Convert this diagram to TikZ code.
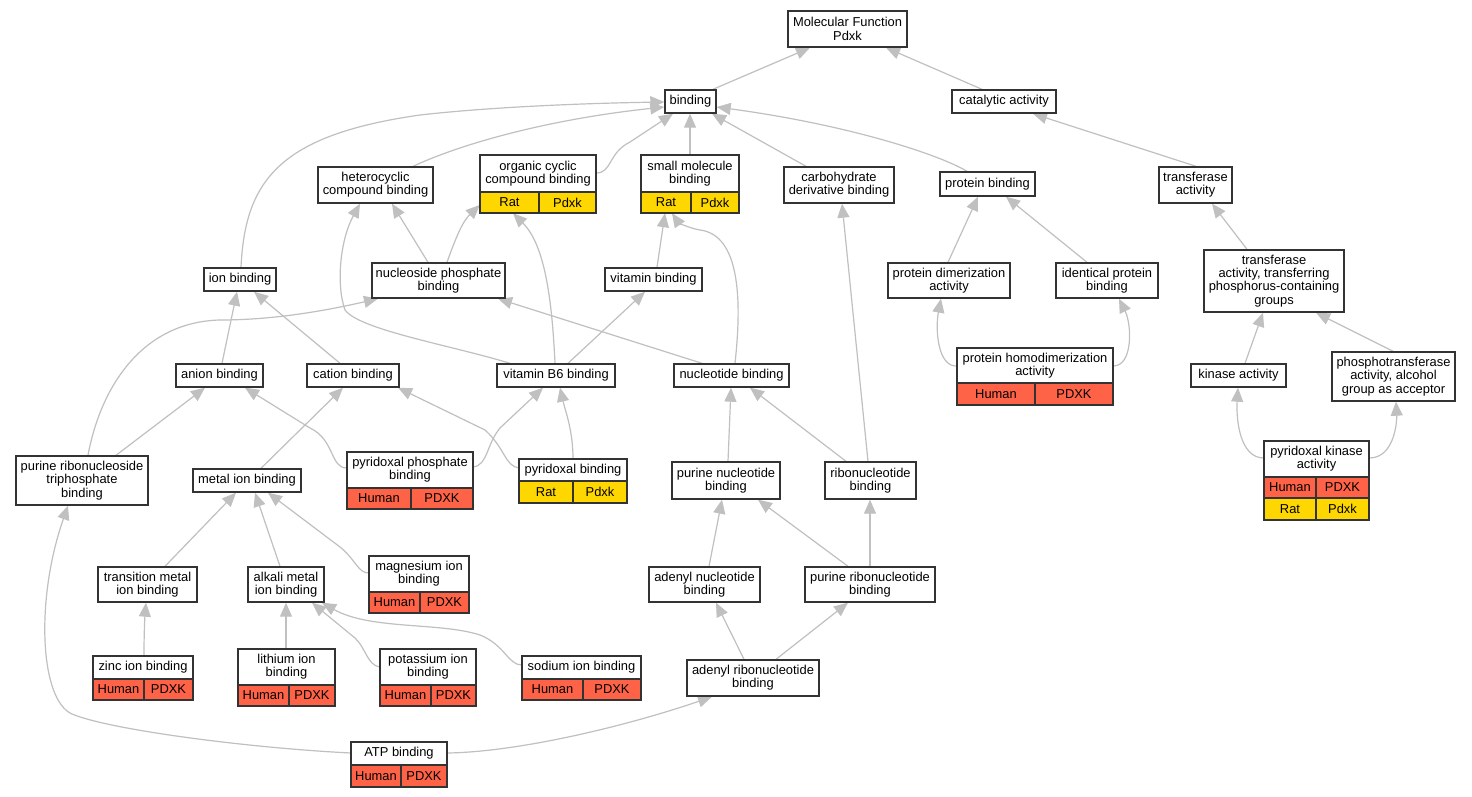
\documentclass[tikz,border=0pt]{standalone}
\usepackage{fontspec}
\setmainfont{Liberation Sans}
\usetikzlibrary{arrows.meta,fit}
\definecolor{edgec}{HTML}{C0C0C0}
\definecolor{boxc}{HTML}{333333}
\definecolor{humc}{HTML}{FF6347}
\definecolor{ratc}{HTML}{FFD700}
\pgfdeclarelayer{back}
\pgfdeclarelayer{bg}
\pgfsetlayers{back,bg,main}
\tikzset{
 boxf/.style={draw=boxc, line width=1.4pt, fill=white, inner sep=0pt},
 txt/.style={align=center, inner sep=0pt, font=\fontsize{12.9}{13.3}\selectfont},
 cellf/.style={draw=boxc, line width=1.4pt, inner sep=0pt},
 outer/.style={inner sep=0pt},
 e/.style={draw=edgec, line width=1.2pt, -{Triangle[length=14pt,width=12pt]}},
}
\newcommand{\bx}[6]{\node[boxf, fit={(#2,#3) (#4,#5)}] (#1) {};
 \node[txt] at (#1.center) {#6};}
\newcommand{\tb}[7]{\node[outer, fit={(#2,#3) (#4,#5)}] (#1) {};
 \node[boxf, fit={(#2,#3) (#4,#6)}] (#1-h) {};
 \node[txt] at (#1-h.center) {#7};}
\newcommand{\cl}[9]{\node[cellf, fill=#7, fit={(#2,#5) (#3,#6)}] (#1-l) {};
 \node[txt] at (#1-l.center) {#8};
 \node[cellf, fill=#7, fit={(#3,#5) (#4,#6)}] (#1-r) {};
 \node[txt] at (#1-r.center) {#9};}
\begin{document}
\begin{tikzpicture}[x=1pt,y=-1pt]
\begin{pgfonlayer}{back}
\fill[white] (0,0) rectangle (1472,797);
\end{pgfonlayer}
\path[use as bounding box] (0,0) rectangle (1472,797);
% nodes
\bx{mf}{788}{11}{907}{47}{Molecular Function\\Pdxk}
\bx{bind}{665}{90}{716}{113}{binding}
\bx{cat}{952}{90}{1056}{113}{catalytic activity}
\bx{het}{318}{167}{433}{203}{heterocyclic\\compound binding}
\tb{occ}{480}{155}{596}{213}{192}{organic cyclic\\compound binding}
\cl{occ}{480}{539}{596}{192}{213}{ratc}{Rat}{Pdxk}
\tb{sm}{641}{155}{739}{213}{192}{small molecule\\binding}
\cl{sm}{641}{691}{739}{192}{213}{ratc}{Rat}{Pdxk}
\bx{carb}{784}{167}{894}{203}{carbohydrate\\derivative binding}
\bx{prot}{940}{172}{1035}{196}{protein binding}
\bx{trans}{1159}{167}{1232}{203}{transferase\\activity}
\bx{ion}{204}{268}{276}{291}{ion binding}
\bx{nps}{372}{263}{505}{298}{nucleoside phosphate\\binding}
\bx{vit}{605}{268}{702}{291}{vitamin binding}
\bx{pdim}{888}{263}{1010}{298}{protein dimerization\\activity}
\bx{ident}{1056}{263}{1158}{298}{identical protein\\binding}
\bx{transp}{1204}{250}{1344}{312}{transferase\\activity, transferring\\phosphorus-containing\\groups}
\bx{anion}{176}{364}{263}{387}{anion binding}
\bx{cation}{307}{364}{399}{387}{cation binding}
\bx{vb6}{497}{364}{615}{387}{vitamin B6 binding}
\bx{nuc}{674}{364}{789}{387}{nucleotide binding}
\tb{homod}{957}{348}{1113}{405}{383}{protein homodimerization\\activity}
\cl{homod}{957}{1035}{1113}{383}{405}{humc}{Human}{PDXK}
\bx{kin}{1191}{364}{1286}{387}{kinase activity}
\bx{phos}{1332}{352}{1455}{401}{phosphotransferase\\activity, alcohol\\group as acceptor}
\bx{prtb}{16}{456}{148}{505}{purine ribonucleoside\\triphosphate\\binding}
\bx{metal}{193}{469}{301}{492}{metal ion binding}
\tb{ppb}{347}{452}{473}{509}{488}{pyridoxal phosphate\\binding}
\cl{ppb}{347}{411}{473}{488}{509}{humc}{Human}{PDXK}
\tb{pb}{519}{459}{627}{503}{481}{pyridoxal binding}
\cl{pb}{519}{573}{627}{481}{503}{ratc}{Rat}{Pdxk}
\bx{pn}{672}{462}{780}{499}{purine nucleotide\\binding}
\bx{ribo}{825}{462}{916}{499}{ribonucleotide\\binding}
\tb{pk}{1264}{441}{1369}{520}{477}{pyridoxal kinase\\activity}
\cl{pkh}{1264}{1316}{1369}{477}{498}{humc}{Human}{PDXK}
\cl{pkr}{1264}{1316}{1369}{498}{520}{ratc}{Rat}{Pdxk}
\bx{trm}{98}{567}{197}{602}{transition metal\\ion binding}
\bx{alk}{248}{567}{324}{602}{alkali metal\\ion binding}
\tb{mg}{369}{556}{469}{613}{592}{magnesium ion\\binding}
\cl{mg}{369}{420}{469}{592}{613}{humc}{Human}{PDXK}
\bx{aden}{649}{567}{760}{602}{adenyl nucleotide\\binding}
\bx{pr}{805}{567}{935}{602}{purine ribonucleotide\\binding}
\tb{zinc}{93}{656}{193}{700}{679}{zinc ion binding}
\cl{zinc}{93}{144}{193}{679}{700}{humc}{Human}{PDXK}
\tb{li}{238}{649}{335}{706}{685}{lithium ion\\binding}
\cl{li}{238}{289}{335}{685}{706}{humc}{Human}{PDXK}
\tb{k}{380}{649}{476}{706}{685}{potassium ion\\binding}
\cl{k}{380}{431}{476}{685}{706}{humc}{Human}{PDXK}
\tb{na}{522}{656}{641}{700}{679}{sodium ion binding}
\cl{na}{522}{583}{641}{679}{700}{humc}{Human}{PDXK}
\bx{adr}{687}{660}{819}{696}{adenyl ribonucleotide\\binding}
\tb{atp}{351}{742}{447}{787}{765}{ATP binding}
\cl{atp}{351}{401}{447}{765}{787}{humc}{Human}{PDXK}
% edges
\begin{pgfonlayer}{bg}
\draw[e] (bind.north -| 713,0) -- (mf.south -| 810,0);
\draw[e] (cat.north -| 982,0) -- (mf.south -| 886,0);
\draw[e] (het.north -| 413,0) .. controls (470,140) and (560,118) .. (bind.west |- 0,107);
\draw[e] (ion.north -| 241,0) .. controls (245,180) and (280,135) .. (420,115) .. controls (500,106) and (600,103) .. (bind.west |- 0,102);
\draw[e] (occ.east |- 0,173) .. controls (612,173) and (608,153) .. (630,142) -- (bind.south -| 673,0);
\draw[e] (sm.north -| 690,0) -- (bind.south -| 690,0);
\draw[e] (carb.north -| 806,0) -- (bind.south -| 712,0);
\draw[e] (prot.north -| 967,0) .. controls (940,155) and (850,125) .. (bind.east |- 0,107);
\draw[e] (trans.north -| 1196,0) -- (cat.south -| 1033,0);
\draw[e] (nps.north -| 428,0) -- (het.south -| 392,0);
\draw[e] (nps.north -| 447,0) .. controls (455,240) and (462,222) .. (occ.west |- 0,205);
\draw[e] (vb6.north -| 510,0) .. controls (450,345) and (360,330) .. (345,310) .. controls (336,285) and (340,240) .. (het.south -| 360,0);
\draw[e] (vb6.north -| 555,0) .. controls (552,300) and (545,245) .. (occ.south -| 513,0);
\draw[e] (vit.north -| 657,0) -- (sm.south -| 665,0);
\draw[e] (nuc.north -| 735,0) .. controls (742,300) and (740,235) .. (700,230) .. controls (688,228) and (678,222) .. (sm.south -| 672,0);
\draw[e] (prtb.north -| 88,0) .. controls (100,390) and (140,322) .. (220,320) .. controls (270,320) and (320,312) .. (nps.south -| 378,0);
\draw[e] (nuc.north -| 702,0) -- (nps.south -| 498,0);
\draw[e] (anion.north -| 222,0) -- (ion.south -| 237,0);
\draw[e] (cation.north -| 340,0) -- (ion.south -| 254,0);
\draw[e] (vb6.north -| 568,0) -- (vit.south -| 645,0);
\draw[e] (pdim.north -| 948,0) -- (prot.south -| 978,0);
\draw[e] (ident.north -| 1087,0) -- (prot.south -| 1006,0);
\draw[e] (transp.north -| 1247,0) -- (trans.south -| 1212,0);
\draw[e] (homod.west |- 0,366) .. controls (938,367) and (935,330) .. (pdim.south -| 941,0);
\draw[e] (homod.east |- 0,366) .. controls (1133,366) and (1132,325) .. (ident.south -| 1119,0);
\draw[e] (kin.north -| 1245,0) -- (transp.south -| 1263,0);
\draw[e] (phos.north -| 1393,0) -- (transp.south -| 1316,0);
\draw[e] (pk.west |- 0,458) .. controls (1240,458) and (1236,420) .. (kin.south -| 1238,0);
\draw[e] (pk.east |- 0,458) .. controls (1395,458) and (1397,420) .. (phos.south -| 1396,0);
\draw[e] (prtb.north -| 116,0) -- (anion.south -| 205,0);
\draw[e] (ppb.west |- 0,468) .. controls (330,468) and (335,440) .. (310,428) -- (anion.south -| 245,0);
\draw[e] (metal.north -| 261,0) -- (cation.south -| 343,0);
\draw[e] (pb.west |- 0,468) .. controls (505,466) and (505,448) .. (485,430) -- (cation.south -| 398,0);
\draw[e] (ppb.east |- 0,467) .. controls (488,465) and (486,445) .. (500,428) -- (vb6.south -| 543,0);
\draw[e] (pb.north -| 573,0) .. controls (573,430) and (565,410) .. (vb6.south -| 560,0);
\draw[e] (pn.north -| 728,0) -- (nuc.south -| 731,0);
\draw[e] (ribo.north -| 846,0) -- (nuc.south -| 750,0);
\draw[e] (ribo.north -| 868,0) -- (carb.south -| 842,0);
\draw[e] (trm.north -| 165,0) -- (metal.south -| 236,0);
\draw[e] (alk.north -| 280,0) -- (metal.south -| 255,0);
\draw[e] (mg.west |- 0,573) .. controls (358,573) and (356,560) .. (340,547) -- (metal.south -| 268,0);
\draw[e] (zinc.north -| 144,0) .. controls (144,630) and (145,615) .. (trm.south -| 146,0);
\draw[e] (li.north -| 286,0) -- (alk.south -| 286,0);
\draw[e] (k.west |- 0,667) .. controls (367,665) and (366,648) .. (355,638) -- (alk.south -| 312,0);
\draw[e] (na.west |- 0,665) .. controls (508,665) and (505,645) .. (480,635) .. controls (440,622) and (370,630) .. (alk.south -| 322,0);
\draw[e] (aden.north -| 709,0) -- (pn.south -| 722,0);
\draw[e] (pr.north -| 848,0) -- (pn.south -| 758,0);
\draw[e] (pr.north -| 870,0) -- (ribo.south -| 870,0);
\draw[e] (adr.north -| 744,0) -- (aden.south -| 716,0);
\draw[e] (adr.north -| 776,0) -- (pr.south -| 848,0);
\draw[e] (atp.east |- 0,753) .. controls (520,752) and (630,725) .. (adr.south -| 712,0);
\draw[e] (atp.west |- 0,753) .. controls (250,748) and (110,730) .. (72,714) .. controls (40,700) and (35,600) .. (prtb.south -| 68,0);
\end{pgfonlayer}
\end{tikzpicture}
\end{document}
